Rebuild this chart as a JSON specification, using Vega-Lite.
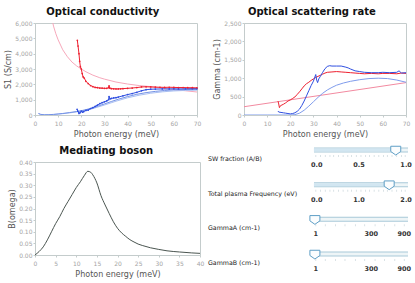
{
  "$schema": "https://vega.github.io/schema/vega-lite/v6.json",
  "padding": {"left": 4, "top": 6, "right": 0, "bottom": 0},
  "spacing": 5,
  "background": "white",
  "resolve": {"scale": {"color": "independent", "strokeWidth": "independent"}},
  "config": {
    "font": "DejaVu Sans",
    "view": {"stroke": "#c4cccc"},
    "title": {"font": "DejaVu Sans", "fontSize": 10, "fontWeight": "bold", "color": "#111111", "offset": 3, "frame": "bounds", "anchor": "middle"},
    "axis": {"labelColor": "#a4a4a4", "labelFontSize": 6, "labelFont": "DejaVu Sans", "titleFont": "DejaVu Sans", "titleFontSize": 8, "titleColor": "#555555", "titleFontWeight": "normal", "domainColor": "#c4cccc", "tickColor": "#c4cccc", "tickSize": 2, "grid": false, "labelOverlap": false, "labelFlush": false},
    "axisX": {"labelPadding": 3, "titlePadding": 4},
    "axisY": {"labelPadding": 1, "titlePadding": 2}
  },
  "datasets": {
    "sigma": [
      {"s": "pink", "x": 6, "y": 7400}, {"s": "pink", "x": 7, "y": 6500}, {"s": "pink", "x": 8, "y": 5800}, {"s": "pink", "x": 9, "y": 5300}, {"s": "pink", "x": 10, "y": 4900}, {"s": "pink", "x": 12, "y": 4250}, {"s": "pink", "x": 14, "y": 3800}, {"s": "pink", "x": 16, "y": 3450}, {"s": "pink", "x": 18, "y": 3200}, {"s": "pink", "x": 20, "y": 3000}, {"s": "pink", "x": 22, "y": 2820}, {"s": "pink", "x": 25, "y": 2600}, {"s": "pink", "x": 28, "y": 2430}, {"s": "pink", "x": 30, "y": 2340}, {"s": "pink", "x": 35, "y": 2150}, {"s": "pink", "x": 40, "y": 2020}, {"s": "pink", "x": 45, "y": 1920}, {"s": "pink", "x": 50, "y": 1850}, {"s": "pink", "x": 55, "y": 1750}, {"s": "pink", "x": 60, "y": 1660}, {"s": "pink", "x": 65, "y": 1580}, {"s": "pink", "x": 70, "y": 1500},
      {"s": "bm2", "x": 1.5, "y": 90}, {"s": "bm2", "x": 2.5, "y": 30}, {"s": "bm2", "x": 4, "y": 10}, {"s": "bm2", "x": 6, "y": 15}, {"s": "bm2", "x": 8, "y": 30}, {"s": "bm2", "x": 10, "y": 55}, {"s": "bm2", "x": 12, "y": 85}, {"s": "bm2", "x": 15, "y": 140}, {"s": "bm2", "x": 18, "y": 200}, {"s": "bm2", "x": 20, "y": 250}, {"s": "bm2", "x": 25, "y": 420}, {"s": "bm2", "x": 30, "y": 650}, {"s": "bm2", "x": 35, "y": 900}, {"s": "bm2", "x": 40, "y": 1120}, {"s": "bm2", "x": 45, "y": 1290}, {"s": "bm2", "x": 50, "y": 1420}, {"s": "bm2", "x": 55, "y": 1510}, {"s": "bm2", "x": 60, "y": 1570}, {"s": "bm2", "x": 65, "y": 1600}, {"s": "bm2", "x": 70, "y": 1620},
      {"s": "bm1", "x": 1.5, "y": 100}, {"s": "bm1", "x": 2.5, "y": 40}, {"s": "bm1", "x": 4, "y": 15}, {"s": "bm1", "x": 6, "y": 20}, {"s": "bm1", "x": 8, "y": 40}, {"s": "bm1", "x": 10, "y": 70}, {"s": "bm1", "x": 12, "y": 100}, {"s": "bm1", "x": 15, "y": 160}, {"s": "bm1", "x": 18, "y": 230}, {"s": "bm1", "x": 20, "y": 280}, {"s": "bm1", "x": 22, "y": 350}, {"s": "bm1", "x": 25, "y": 470}, {"s": "bm1", "x": 28, "y": 620}, {"s": "bm1", "x": 30, "y": 720}, {"s": "bm1", "x": 33, "y": 880}, {"s": "bm1", "x": 36, "y": 1030}, {"s": "bm1", "x": 40, "y": 1200}, {"s": "bm1", "x": 44, "y": 1350}, {"s": "bm1", "x": 48, "y": 1460}, {"s": "bm1", "x": 52, "y": 1540}, {"s": "bm1", "x": 56, "y": 1600}, {"s": "bm1", "x": 60, "y": 1640}, {"s": "bm1", "x": 65, "y": 1660}, {"s": "bm1", "x": 70, "y": 1670},
      {"s": "blue", "x": 18.2, "y": 370}, {"s": "blue", "x": 18.5, "y": 250}, {"s": "blue", "x": 19, "y": 100}, {"s": "blue", "x": 19.5, "y": 150}, {"s": "blue", "x": 20, "y": 250}, {"s": "blue", "x": 20.5, "y": 180}, {"s": "blue", "x": 21, "y": 220}, {"s": "blue", "x": 22, "y": 300}, {"s": "blue", "x": 23, "y": 320}, {"s": "blue", "x": 24, "y": 420}, {"s": "blue", "x": 25, "y": 480}, {"s": "blue", "x": 26, "y": 560}, {"s": "blue", "x": 27, "y": 650}, {"s": "blue", "x": 28, "y": 740}, {"s": "blue", "x": 29, "y": 800}, {"s": "blue", "x": 30, "y": 860}, {"s": "blue", "x": 31, "y": 920}, {"s": "blue", "x": 31.8, "y": 1000}, {"s": "blue", "x": 32, "y": 1200}, {"s": "blue", "x": 32.4, "y": 1050}, {"s": "blue", "x": 33, "y": 1080}, {"s": "blue", "x": 34, "y": 1110}, {"s": "blue", "x": 35, "y": 1130}, {"s": "blue", "x": 36, "y": 1170}, {"s": "blue", "x": 38, "y": 1250}, {"s": "blue", "x": 40, "y": 1330}, {"s": "blue", "x": 42, "y": 1400}, {"s": "blue", "x": 44, "y": 1480}, {"s": "blue", "x": 46, "y": 1580}, {"s": "blue", "x": 48, "y": 1650}, {"s": "blue", "x": 50, "y": 1680}, {"s": "blue", "x": 52, "y": 1690}, {"s": "blue", "x": 55, "y": 1700}, {"s": "blue", "x": 58, "y": 1700}, {"s": "blue", "x": 60, "y": 1710}, {"s": "blue", "x": 62, "y": 1700}, {"s": "blue", "x": 65, "y": 1710}, {"s": "blue", "x": 68, "y": 1720}, {"s": "blue", "x": 70, "y": 1720},
      {"s": "red", "x": 18.3, "y": 4870}, {"s": "red", "x": 18.6, "y": 4500}, {"s": "red", "x": 19, "y": 4000}, {"s": "red", "x": 19.3, "y": 3500}, {"s": "red", "x": 19.6, "y": 3150}, {"s": "red", "x": 20, "y": 3000}, {"s": "red", "x": 20.4, "y": 2700}, {"s": "red", "x": 20.8, "y": 2480}, {"s": "red", "x": 21.3, "y": 2400}, {"s": "red", "x": 22, "y": 2200}, {"s": "red", "x": 23, "y": 2050}, {"s": "red", "x": 24, "y": 1920}, {"s": "red", "x": 25, "y": 1850}, {"s": "red", "x": 26, "y": 1800}, {"s": "red", "x": 27, "y": 1780}, {"s": "red", "x": 28, "y": 1760}, {"s": "red", "x": 29, "y": 1750}, {"s": "red", "x": 30, "y": 1740}, {"s": "red", "x": 31, "y": 1740}, {"s": "red", "x": 31.8, "y": 1780}, {"s": "red", "x": 32, "y": 1900}, {"s": "red", "x": 32.3, "y": 1760}, {"s": "red", "x": 33, "y": 1720}, {"s": "red", "x": 34, "y": 1710}, {"s": "red", "x": 35, "y": 1700}, {"s": "red", "x": 36, "y": 1700}, {"s": "red", "x": 37, "y": 1710}, {"s": "red", "x": 38, "y": 1720}, {"s": "red", "x": 40, "y": 1740}, {"s": "red", "x": 42, "y": 1760}, {"s": "red", "x": 44, "y": 1790}, {"s": "red", "x": 46, "y": 1830}, {"s": "red", "x": 48, "y": 1840}, {"s": "red", "x": 50, "y": 1830}, {"s": "red", "x": 52, "y": 1820}, {"s": "red", "x": 54, "y": 1810}, {"s": "red", "x": 56, "y": 1800}, {"s": "red", "x": 58, "y": 1810}, {"s": "red", "x": 60, "y": 1800}, {"s": "red", "x": 62, "y": 1790}, {"s": "red", "x": 64, "y": 1790}, {"s": "red", "x": 66, "y": 1780}, {"s": "red", "x": 68, "y": 1780}, {"s": "red", "x": 70, "y": 1770}
    ],
    "gamma": [
      {"s": "pink", "x": 0, "y": 225}, {"s": "pink", "x": 70, "y": 880},
      {"s": "bm1", "x": 0, "y": 0}, {"s": "bm1", "x": 10, "y": 0}, {"s": "bm1", "x": 20, "y": 0}, {"s": "bm1", "x": 22, "y": 10}, {"s": "bm1", "x": 24, "y": 50}, {"s": "bm1", "x": 26, "y": 130}, {"s": "bm1", "x": 28, "y": 240}, {"s": "bm1", "x": 30, "y": 360}, {"s": "bm1", "x": 32, "y": 480}, {"s": "bm1", "x": 34, "y": 590}, {"s": "bm1", "x": 36, "y": 680}, {"s": "bm1", "x": 38, "y": 750}, {"s": "bm1", "x": 40, "y": 810}, {"s": "bm1", "x": 43, "y": 870}, {"s": "bm1", "x": 46, "y": 915}, {"s": "bm1", "x": 50, "y": 960}, {"s": "bm1", "x": 54, "y": 990}, {"s": "bm1", "x": 58, "y": 1000}, {"s": "bm1", "x": 62, "y": 990}, {"s": "bm1", "x": 66, "y": 950}, {"s": "bm1", "x": 70, "y": 890},
      {"s": "red", "x": 14.7, "y": 376}, {"s": "red", "x": 15, "y": 300}, {"s": "red", "x": 15.3, "y": 200}, {"s": "red", "x": 15.6, "y": 240}, {"s": "red", "x": 16, "y": 260}, {"s": "red", "x": 17, "y": 290}, {"s": "red", "x": 18, "y": 330}, {"s": "red", "x": 19, "y": 380}, {"s": "red", "x": 20, "y": 410}, {"s": "red", "x": 21, "y": 450}, {"s": "red", "x": 22, "y": 490}, {"s": "red", "x": 23, "y": 560}, {"s": "red", "x": 24, "y": 630}, {"s": "red", "x": 25, "y": 710}, {"s": "red", "x": 26, "y": 790}, {"s": "red", "x": 27, "y": 850}, {"s": "red", "x": 28, "y": 890}, {"s": "red", "x": 29, "y": 940}, {"s": "red", "x": 30, "y": 980}, {"s": "red", "x": 31, "y": 1020}, {"s": "red", "x": 32, "y": 1050}, {"s": "red", "x": 33, "y": 1080}, {"s": "red", "x": 34, "y": 1110}, {"s": "red", "x": 35, "y": 1140}, {"s": "red", "x": 36, "y": 1160}, {"s": "red", "x": 38, "y": 1170}, {"s": "red", "x": 40, "y": 1180}, {"s": "red", "x": 42, "y": 1170}, {"s": "red", "x": 44, "y": 1160}, {"s": "red", "x": 46, "y": 1150}, {"s": "red", "x": 48, "y": 1140}, {"s": "red", "x": 50, "y": 1130}, {"s": "red", "x": 52, "y": 1120}, {"s": "red", "x": 55, "y": 1130}, {"s": "red", "x": 58, "y": 1120}, {"s": "red", "x": 60, "y": 1130}, {"s": "red", "x": 63, "y": 1130}, {"s": "red", "x": 66, "y": 1120}, {"s": "red", "x": 68, "y": 1140}, {"s": "red", "x": 70, "y": 1130},
      {"s": "blue", "x": 14.7, "y": 107}, {"s": "blue", "x": 15, "y": 80}, {"s": "blue", "x": 16, "y": 70}, {"s": "blue", "x": 17, "y": 60}, {"s": "blue", "x": 18, "y": 50}, {"s": "blue", "x": 19, "y": 40}, {"s": "blue", "x": 20, "y": 30}, {"s": "blue", "x": 21, "y": 40}, {"s": "blue", "x": 22, "y": 60}, {"s": "blue", "x": 23, "y": 100}, {"s": "blue", "x": 24, "y": 160}, {"s": "blue", "x": 25, "y": 260}, {"s": "blue", "x": 26, "y": 380}, {"s": "blue", "x": 27, "y": 520}, {"s": "blue", "x": 28, "y": 660}, {"s": "blue", "x": 29, "y": 800}, {"s": "blue", "x": 30, "y": 920}, {"s": "blue", "x": 30.6, "y": 1030}, {"s": "blue", "x": 31, "y": 1100}, {"s": "blue", "x": 31.4, "y": 950}, {"s": "blue", "x": 31.8, "y": 880}, {"s": "blue", "x": 32.3, "y": 980}, {"s": "blue", "x": 33, "y": 1050}, {"s": "blue", "x": 34, "y": 1160}, {"s": "blue", "x": 35, "y": 1260}, {"s": "blue", "x": 36, "y": 1320}, {"s": "blue", "x": 37, "y": 1340}, {"s": "blue", "x": 38, "y": 1330}, {"s": "blue", "x": 40, "y": 1330}, {"s": "blue", "x": 42, "y": 1330}, {"s": "blue", "x": 44, "y": 1300}, {"s": "blue", "x": 45, "y": 1280}, {"s": "blue", "x": 46, "y": 1250}, {"s": "blue", "x": 48, "y": 1200}, {"s": "blue", "x": 50, "y": 1180}, {"s": "blue", "x": 52, "y": 1160}, {"s": "blue", "x": 55, "y": 1150}, {"s": "blue", "x": 58, "y": 1150}, {"s": "blue", "x": 60, "y": 1160}, {"s": "blue", "x": 63, "y": 1150}, {"s": "blue", "x": 66, "y": 1160}, {"s": "blue", "x": 67, "y": 1200}, {"s": "blue", "x": 68, "y": 1140}, {"s": "blue", "x": 70, "y": 1150}
    ],
    "boson": [
      {"x": 0, "y": 0}, {"x": 1, "y": 0.015}, {"x": 2, "y": 0.035}, {"x": 3, "y": 0.065}, {"x": 4, "y": 0.1}, {"x": 5, "y": 0.135}, {"x": 6, "y": 0.165}, {"x": 7, "y": 0.2}, {"x": 8, "y": 0.23}, {"x": 9, "y": 0.26}, {"x": 10, "y": 0.29}, {"x": 11, "y": 0.315}, {"x": 12, "y": 0.343}, {"x": 12.8, "y": 0.36}, {"x": 13.5, "y": 0.356}, {"x": 14, "y": 0.345}, {"x": 15, "y": 0.31}, {"x": 16, "y": 0.255}, {"x": 17, "y": 0.215}, {"x": 18, "y": 0.178}, {"x": 19, "y": 0.143}, {"x": 20, "y": 0.115}, {"x": 21, "y": 0.095}, {"x": 22, "y": 0.08}, {"x": 23, "y": 0.066}, {"x": 24, "y": 0.056}, {"x": 25, "y": 0.047}, {"x": 26, "y": 0.041}, {"x": 28, "y": 0.031}, {"x": 30, "y": 0.024}, {"x": 32, "y": 0.018}, {"x": 35, "y": 0.013}, {"x": 38, "y": 0.009}, {"x": 40, "y": 0.007}
    ],
    "sliders": [
      {"s": 0, "label": "SW fraction (A/B)", "v": 0.87, "lo": 0, "hi": 1},
      {"s": 1, "label": "Total plasma Frequency (eV)", "v": 0.8, "lo": 0, "hi": 1},
      {"s": 2, "label": "GammaA (cm-1)", "v": 0.01, "lo": 0, "hi": 1},
      {"s": 3, "label": "GammaB (cm-1)", "v": 0.01, "lo": 0, "hi": 1}
    ],
    "slabels": [
      {"s": 0, "p": 0.03, "t": "0.0"}, {"s": 0, "p": 0.48, "t": "0.5"}, {"s": 0, "p": 0.98, "t": "1.0"},
      {"s": 1, "p": 0.03, "t": "0.0"}, {"s": 1, "p": 0.48, "t": "1.0"}, {"s": 1, "p": 0.98, "t": "2.0"},
      {"s": 2, "p": 0.02, "t": "1"}, {"s": 2, "p": 0.61, "t": "300"}, {"s": 2, "p": 0.96, "t": "900"},
      {"s": 3, "p": 0.02, "t": "1"}, {"s": 3, "p": 0.61, "t": "300"}, {"s": 3, "p": 0.96, "t": "900"}
    ],
    "sticks": [
      {"s": 0, "p": 0.02}, {"s": 0, "p": 0.07}, {"s": 0, "p": 0.12}, {"s": 0, "p": 0.17}, {"s": 0, "p": 0.21}, {"s": 0, "p": 0.26}, {"s": 0, "p": 0.31}, {"s": 0, "p": 0.36}, {"s": 0, "p": 0.4}, {"s": 0, "p": 0.45}, {"s": 0, "p": 0.5}, {"s": 0, "p": 0.55}, {"s": 0, "p": 0.59}, {"s": 0, "p": 0.64}, {"s": 0, "p": 0.69}, {"s": 0, "p": 0.74}, {"s": 0, "p": 0.78}, {"s": 0, "p": 0.83}, {"s": 0, "p": 0.88}, {"s": 0, "p": 0.93}, {"s": 0, "p": 0.97},
      {"s": 1, "p": 0.02}, {"s": 1, "p": 0.07}, {"s": 1, "p": 0.12}, {"s": 1, "p": 0.17}, {"s": 1, "p": 0.21}, {"s": 1, "p": 0.26}, {"s": 1, "p": 0.31}, {"s": 1, "p": 0.36}, {"s": 1, "p": 0.4}, {"s": 1, "p": 0.45}, {"s": 1, "p": 0.5}, {"s": 1, "p": 0.55}, {"s": 1, "p": 0.59}, {"s": 1, "p": 0.64}, {"s": 1, "p": 0.69}, {"s": 1, "p": 0.74}, {"s": 1, "p": 0.78}, {"s": 1, "p": 0.83}, {"s": 1, "p": 0.88}, {"s": 1, "p": 0.93}, {"s": 1, "p": 0.97},
      {"s": 2, "p": 0.02}, {"s": 2, "p": 0.12}, {"s": 2, "p": 0.23}, {"s": 2, "p": 0.33}, {"s": 2, "p": 0.44}, {"s": 2, "p": 0.54}, {"s": 2, "p": 0.65}, {"s": 2, "p": 0.75}, {"s": 2, "p": 0.86}, {"s": 2, "p": 0.96},
      {"s": 3, "p": 0.02}, {"s": 3, "p": 0.12}, {"s": 3, "p": 0.23}, {"s": 3, "p": 0.33}, {"s": 3, "p": 0.44}, {"s": 3, "p": 0.54}, {"s": 3, "p": 0.65}, {"s": 3, "p": 0.75}, {"s": 3, "p": 0.86}, {"s": 3, "p": 0.96}
    ]
  },
  "vconcat": [
    {
      "spacing": 11,
      "resolve": {"scale": {"color": "independent", "strokeWidth": "independent"}},
      "hconcat": [
        {
          "width": 162, "height": 92,
          "title": "Optical conductivity",
          "data": {"name": "sigma"},
          "encoding": {
            "x": {"field": "x", "type": "quantitative", "scale": {"domain": [0, 70], "nice": false}, "axis": {"values": [0, 10, 20, 30, 40, 50, 60, 70], "title": "Photon energy (meV)"}},
            "y": {"field": "y", "type": "quantitative", "scale": {"domain": [0, 6000], "nice": false}, "axis": {"values": [0, 1000, 2000, 3000, 4000, 5000, 6000], "title": "S1 (S/cm)"}},
            "color": {"field": "s", "type": "nominal", "scale": {"domain": ["pink", "bm2", "bm1", "blue", "red"], "range": ["#f7a8bb", "#a9bff2", "#7391e6", "#2f4fe0", "#ee2030"]}, "legend": null}
          },
          "layer": [
            {
              "mark": {"type": "line", "clip": true},
              "encoding": {
                "strokeWidth": {"field": "s", "type": "nominal", "scale": {"domain": ["pink", "bm2", "bm1", "blue", "red"], "range": [1, 1, 1, 1.6, 1.6]}, "legend": null}
              }
            },
            {
              "transform": [{"filter": "datum.s == 'red' || datum.s == 'blue'"}],
              "mark": {"type": "point", "filled": true, "size": 3, "opacity": 1}
            }
          ]
        },
        {
          "width": 162, "height": 92,
          "title": "Optical scattering rate",
          "data": {"name": "gamma"},
          "mark": {"type": "line", "clip": true},
          "encoding": {
            "x": {"field": "x", "type": "quantitative", "scale": {"domain": [0, 70], "nice": false}, "axis": {"values": [0, 10, 20, 30, 40, 50, 60, 70], "title": "Photon energy (meV)"}},
            "y": {"field": "y", "type": "quantitative", "scale": {"domain": [0, 2500], "nice": false}, "axis": {"values": [0, 500, 1000, 1500, 2000, 2500], "title": "Gamma (cm-1)"}},
            "color": {"field": "s", "type": "nominal", "scale": {"domain": ["pink", "bm1", "red", "blue"], "range": ["#f28aa0", "#7f9cec", "#ee2030", "#2f4fe0"]}, "legend": null},
            "strokeWidth": {"field": "s", "type": "nominal", "scale": {"domain": ["pink", "bm1", "red", "blue"], "range": [1, 1, 2.6, 2.6]}, "legend": null}
          }
        }
      ]
    },
    {
      "spacing": 0,
      "resolve": {"scale": {"color": "independent", "strokeWidth": "independent"}},
      "hconcat": [
        {
          "width": 165, "height": 93,
          "title": "Mediating boson",
          "data": {"name": "boson"},
          "mark": {"type": "line", "color": "#4a5550", "strokeWidth": 1, "interpolate": "monotone"},
          "encoding": {
            "x": {"field": "x", "type": "quantitative", "scale": {"domain": [0, 40], "nice": false}, "axis": {"values": [0, 5, 10, 15, 20, 25, 30, 35, 40], "title": "Photon energy (meV)"}},
            "y": {"field": "y", "type": "quantitative", "scale": {"domain": [0, 0.4], "nice": false}, "axis": {"values": [0, 0.05, 0.1, 0.15, 0.2, 0.25, 0.3, 0.35, 0.4], "format": ".2f", "title": "B(omega)"}}
          }
        },
        {
          "width": 209, "height": 110,
          "view": {"stroke": null},
          "layer": [
            {
              "data": {"name": "sliders"},
              "mark": {"type": "rule", "color": "#a9c9d8", "strokeWidth": 5},
              "encoding": {
                "x": {"field": "lo", "type": "quantitative", "scale": {"domain": [-1.159, 1.064], "nice": false, "zero": false}, "axis": null},
                "x2": {"field": "hi"},
                "y": {"field": "s", "type": "quantitative", "scale": {"domain": [0.346, 3.519], "nice": false, "zero": false, "reverse": true}, "axis": null}
              }
            },
            {
              "data": {"name": "sliders"},
              "mark": {"type": "rule", "color": "#eef5f7", "strokeWidth": 3},
              "encoding": {
                "x": {"field": "lo", "type": "quantitative"},
                "x2": {"field": "hi"},
                "y": {"field": "s", "type": "quantitative"}
              }
            },
            {
              "data": {"name": "sliders"},
              "mark": {"type": "rule", "color": "#d2e6f1", "strokeWidth": 3},
              "encoding": {
                "x": {"field": "lo", "type": "quantitative"},
                "x2": {"field": "v"},
                "y": {"field": "s", "type": "quantitative"}
              }
            },
            {
              "data": {"name": "sticks"},
              "mark": {"type": "tick", "orient": "vertical", "size": 2, "thickness": 0.7, "color": "#b4c4cc", "yOffset": 6},
              "encoding": {
                "x": {"field": "p", "type": "quantitative"},
                "y": {"field": "s", "type": "quantitative"}
              }
            },
            {
              "data": {"name": "sliders"},
              "mark": {"type": "point", "shape": "M -1 -0.75 L 1 -0.75 L 1 0.3 L 0 1 L -1 0.3 Z", "size": 100, "filled": true, "fill": "#fbfdfe", "stroke": "#5f9fc6", "strokeWidth": 1, "opacity": 1},
              "encoding": {
                "x": {"field": "v", "type": "quantitative"},
                "y": {"field": "s", "type": "quantitative"}
              }
            },
            {
              "data": {"name": "slabels"},
              "mark": {"type": "text", "fontSize": 6.5, "fill": "#333333", "fontWeight": "bold", "align": "center", "baseline": "middle", "yOffset": 15},
              "encoding": {
                "x": {"field": "p", "type": "quantitative"},
                "y": {"field": "s", "type": "quantitative"},
                "text": {"field": "t"}
              }
            },
            {
              "data": {"name": "sliders"},
              "mark": {"type": "text", "fontSize": 6.3, "fill": "#222222", "align": "left", "baseline": "middle", "yOffset": 9},
              "encoding": {
                "x": {"datum": -1.128, "type": "quantitative"},
                "y": {"field": "s", "type": "quantitative"},
                "text": {"field": "label"}
              }
            }
          ]
        }
      ]
    }
  ]
}
